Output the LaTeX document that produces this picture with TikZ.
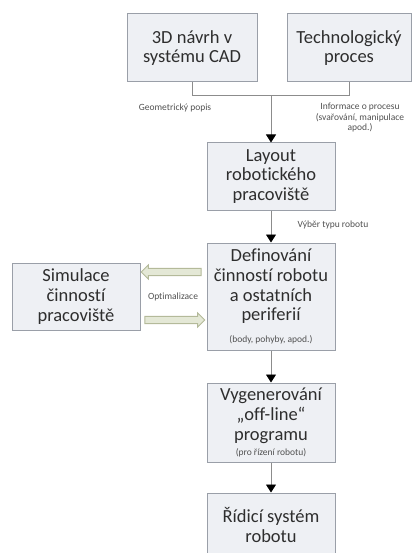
\documentclass[tikz,border=0pt]{standalone}
\usepackage{fontspec}
\setmainfont{Carlito}[Ligatures={NoCommon}]
\usetikzlibrary{arrows.meta,shapes.arrows}

\definecolor{boxfill}{HTML}{EEF0F4}
\definecolor{boxedge}{HTML}{9A9FA8}
\definecolor{textgray}{HTML}{2E2E2E}
\definecolor{labelgray}{HTML}{505050}
\definecolor{linegray}{HTML}{8C8C8C}
\definecolor{arrowfill}{HTML}{E4E8D6}
\definecolor{arrowedge}{HTML}{B4BA9A}

\begin{document}
\begin{tikzpicture}[x=1pt,y=-1pt,
  >={Triangle[width=10pt,length=8pt,color=black]},
  blok/.style={draw=boxedge,fill=boxfill,line width=1pt,align=center,
    text=textgray,font=\fontsize{18.5}{19.8}\selectfont,
    minimum width=128pt,inner sep=0pt},
  popis/.style={font=\fontsize{9.5}{10.5}\selectfont,text=labelgray,align=center},
  spoj/.style={draw=linegray,line width=0.8pt},
  sipka/.style={single arrow,draw=arrowedge,fill=arrowfill,line width=0.9pt,
    minimum height=60pt,inner xsep=0pt,inner ysep=3.2pt,
    single arrow head extend=3.5pt,single arrow head indent=0pt}
]
  \useasboundingbox (0,0) rectangle (414,553);

  \node[blok,minimum width=130pt,minimum height=68pt] (cad) at (192,48)
    {3D návrh v\\systému CAD};
  \node[blok,minimum width=124pt,minimum height=68pt] (tech) at (349,48)
    {Technologický\\proces};
  \node[blok,minimum height=67pt] (layout) at (271,176.5)
    {Layout\\robotického\\pracoviště};
  \node[blok,minimum height=107pt] (defin) at (271,296.5)
    {Definování\\činností robotu\\a ostatních\\periferií\\[2pt]
     {\fontsize{9.5}{10}\selectfont\color{labelgray}(body, pohyby, apod.)}};
  \node[blok,minimum height=67pt] (sim) at (76,296.5)
    {Simulace\\činností\\pracoviště};
  \node[blok,minimum height=79pt] (offline) at (271,422.5)
    {Vygenerování\\„off-line“\\programu\\[-5pt]
     {\fontsize{9.5}{10}\selectfont\color{labelgray}(pro řízení robotu)}};
  \node[blok,minimum height=64pt] (ridici) at (271,525)
    {Řídicí systém\\robotu};

  % popisky
  \node[popis] (geom) at (175,108) {Geometrický popis};
  \node[popis] (info) at (360,118) {Informace o procesu\\(svařování, manipulace\\apod.)};
  \node[popis] (vyber) at (333,225) {Výběr typu robotu};
  \node[popis] (optim) at (173,297) {Optimalizace};

  \draw[spoj] (cad.south) -- ++(0,13) coordinate (cadb) -| (tech.south);
  \coordinate (stred) at (layout.north |- cadb);
  \draw[spoj,->] (stred) -- (layout.north);
  \draw[spoj,->] (layout) -- (defin);
  \draw[spoj,->] (defin) -- (offline);
  \draw[spoj,->] (offline) -- (ridici);

  \node[sipka,shape border rotate=180] (zpet) at (173,272) {};
  \node[sipka] (tam) at (173,320) {};
\end{tikzpicture}
\end{document}
